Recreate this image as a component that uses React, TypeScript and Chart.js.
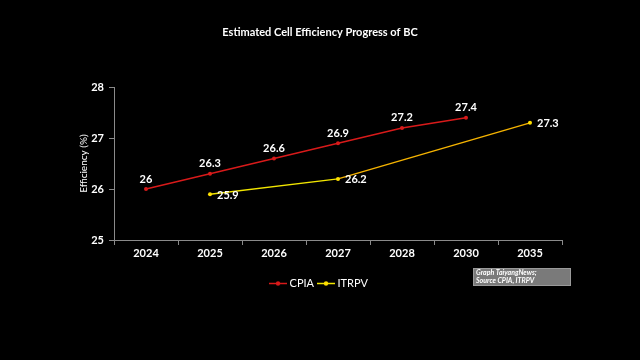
import React, { useEffect, useRef } from "react";
import { Chart, registerables } from "chart.js";

Chart.register(...registerables);

const categories = ["2024", "2025", "2026", "2027", "2028", "2030", "2035"];
const cpiaValues = [26, 26.3, 26.6, 26.9, 27.2, 27.4, null];
const itrpvValues = [null, 25.9, null, 26.2, null, null, 27.3];
const yTicks = [25, 26, 27, 28];
const chartTitle = "Estimated Cell Efficiency Progress of BC";
const yAxisTitle = "Efficiency (%)";
const sourceLines = ["Graph TaiyangNews;", "Source CPIA, ITRPV"];

const RED = "#d81a1a";
const YELLOW = "#f2e600";
const ORANGE = "#f5b300";
const FONT = "Lato, 'Open Sans', sans-serif";

function legendIcon(color: string, dot: string): HTMLCanvasElement {
  const c = document.createElement("canvas");
  c.width = 18;
  c.height = 7;
  const g = c.getContext("2d")!;
  g.strokeStyle = color;
  g.lineWidth = 1.5;
  g.beginPath();
  g.moveTo(0, 3.5);
  g.lineTo(18, 3.5);
  g.stroke();
  g.fillStyle = dot;
  g.beginPath();
  g.arc(9, 3.5, 2.2, 0, Math.PI * 2);
  g.fill();
  return c;
}

const dataLabels = {
  id: "dataLabels",
  afterDatasetsDraw(chart: any) {
    const ctx = chart.ctx;
    ctx.save();
    ctx.fillStyle = "#ffffff";
    ctx.font = `bold 11px ${FONT}`;
    chart.data.datasets.forEach((ds: any, di: number) => {
      const meta = chart.getDatasetMeta(di);
      meta.data.forEach((pt: any, i: number) => {
        const v = ds.data[i];
        if (v === null || v === undefined) return;
        if (di === 0) {
          ctx.textAlign = "center";
          ctx.textBaseline = "middle";
          ctx.fillText(String(v), pt.x, pt.y - 10);
        } else {
          ctx.textAlign = "left";
          ctx.textBaseline = "middle";
          ctx.fillText(String(v), pt.x + 7, pt.y + 1);
        }
      });
    });
    ctx.restore();
  },
};

const sourceBox = {
  id: "sourceBox",
  afterDraw(chart: any) {
    const ctx = chart.ctx;
    const right = chart.chartArea.right + 9;
    const x = right - 98;
    const y = 268;
    ctx.save();
    ctx.fillStyle = "#7a7a7a";
    ctx.fillRect(x, y, 98, 18);
    ctx.strokeStyle = "#9a9a9a";
    ctx.lineWidth = 1;
    ctx.strokeRect(x + 0.5, y + 0.5, 97, 17);
    ctx.fillStyle = "#ffffff";
    ctx.font = `italic bold 7px ${FONT}`;
    ctx.textAlign = "left";
    ctx.textBaseline = "middle";
    ctx.fillText(sourceLines[0], x + 3, y + 5);
    ctx.fillText(sourceLines[1], x + 3, y + 13);
    ctx.restore();
  },
};

export default function App() {
  const ref = useRef<HTMLCanvasElement>(null);
  useEffect(() => {
    if (!ref.current) return;
    const chart = new Chart(ref.current, {
      type: "line",
      data: {
        labels: categories,
        datasets: [
          {
            label: "CPIA",
            data: cpiaValues,
            borderColor: RED,
            backgroundColor: RED,
            borderWidth: 1.5,
            pointRadius: 2,
            pointBackgroundColor: RED,
            pointBorderWidth: 0,
            tension: 0,
            spanGaps: true,
          },
          {
            label: "ITRPV",
            data: itrpvValues,
            borderColor: YELLOW,
            backgroundColor: YELLOW,
            borderWidth: 1.5,
            pointRadius: 2,
            pointBackgroundColor: "#ffe000",
            pointBorderWidth: 0,
            tension: 0,
            spanGaps: true,
            segment: {
              borderColor: (c: any) => (c.p1DataIndex > 3 ? ORANGE : YELLOW),
            },
          },
        ],
      },
      options: {
        animation: false,
        responsive: false,
        maintainAspectRatio: false,
        layout: { padding: { left: 78, right: 78, top: 0, bottom: 61 } },
        plugins: {
          title: {
            display: true,
            text: chartTitle,
            color: "#ffffff",
            font: { family: FONT, size: 11, weight: "bold" },
            padding: { top: 26, bottom: 48 },
          },
          legend: {
            position: "bottom",
            labels: {
              color: "#ffffff",
              font: { family: FONT, size: 11 },
              usePointStyle: true,
              pointStyleWidth: 12,
              padding: 6,
              boxHeight: 11,
              generateLabels: (ch: any) => {
                const items = Chart.defaults.plugins.legend.labels.generateLabels(ch);
                items.forEach((it: any, i: number) => {
                  it.pointStyle = i === 0 ? legendIcon(RED, RED) : legendIcon(YELLOW, "#ffe000");
                });
                return items;
              },
            },
          },
          tooltip: { enabled: false },
        },
        scales: {
          x: {
            type: "category",
            offset: true,
            grid: {
              display: true,
              drawOnChartArea: false,
              offset: true,
              color: "#8a8a8a",
              tickLength: 5,
            },
            border: { color: "#8a8a8a", width: 1 },
            ticks: {
              color: "#ffffff",
              font: { family: FONT, size: 11, weight: "bold" },
              padding: 2,
              maxRotation: 0,
            },
            afterFit: (s: any) => {
              s.height = 32;
            },
          },
          y: {
            min: yTicks[0],
            max: yTicks[yTicks.length - 1],
            afterBuildTicks: (s: any) => {
              s.ticks = yTicks.map((v) => ({ value: v }));
            },
            grid: {
              display: true,
              drawOnChartArea: false,
              color: "#8a8a8a",
              tickLength: 5,
            },
            border: { color: "#8a8a8a", width: 1 },
            ticks: {
              color: "#ffffff",
              font: { family: FONT, size: 11, weight: "bold" },
              padding: 5,
            },
            title: {
              display: true,
              text: yAxisTitle,
              color: "#ffffff",
              font: { family: FONT, size: 10 },
              padding: 0,
            },
            afterFit: (s: any) => {
              s.width = 36;
            },
          },
        },
      },
      plugins: [dataLabels, sourceBox],
    });
    return () => chart.destroy();
  }, []);
  return (
    <div style={{ position: "fixed", left: 0, top: 0, width: 640, height: 360, background: "#000" }}>
      <canvas ref={ref} width={640} height={360} style={{ width: 640, height: 360, display: "block" }} />
    </div>
  );
}
